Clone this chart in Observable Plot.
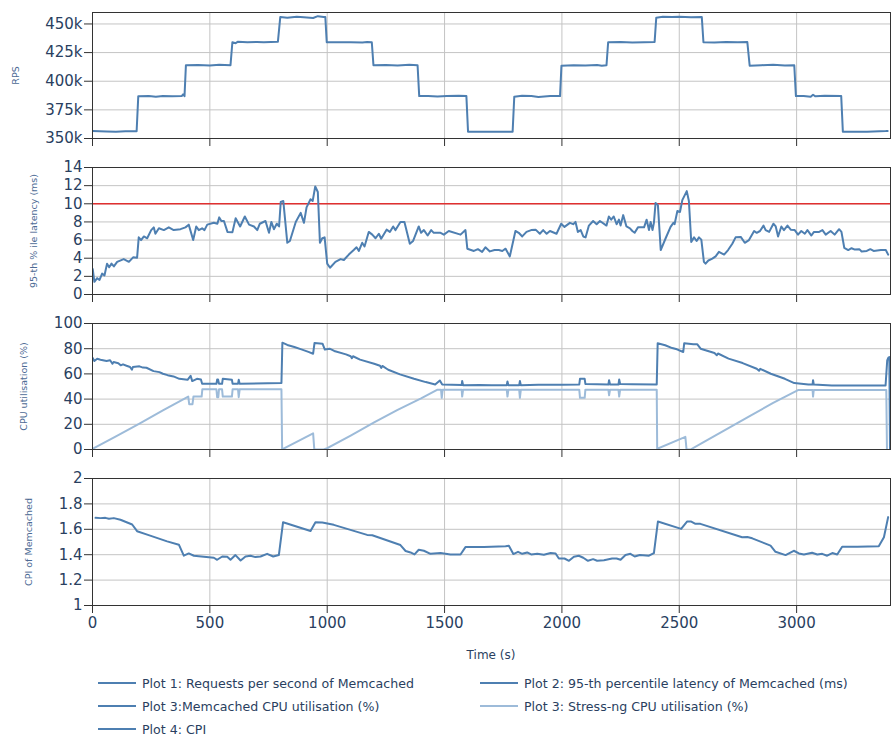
<!DOCTYPE html>
<html><head><meta charset="utf-8">
<script src="https://cdn.jsdelivr.net/npm/d3@7"></script>
<script src="https://cdn.jsdelivr.net/npm/@observablehq/plot@0.6"></script>
<style>
body{margin:0;background:#fff;font-family:"DejaVu Sans",Verdana,sans-serif}
#wrap{position:relative;width:892px;height:740px;overflow:hidden}
.panel{position:absolute;left:0}
#xlabel{position:absolute;top:648px;left:92px;width:798px;text-align:center;font-size:12px;color:#2a3f5f}
.leg{position:absolute;font-size:12.6px;color:#2a3f5f;display:flex;align-items:center;white-space:nowrap;height:16px}
.leg .sw{display:inline-block;width:38px;height:0;border-top:2px solid;margin-right:6px}
</style></head><body><div id="wrap"></div>
<script>
// ---- data (time in seconds, value) ----
const xTicks = [0, 500, 1000, 1500, 2000, 2500, 3000];
const rpsTicks = [350, 375, 400, 425, 450];          // thousands
const latTicks = [0, 2, 4, 6, 8, 10, 12, 14];
const cpuTicks = [0, 20, 40, 60, 80, 100];
const cpiTicks = [1, 1.2, 1.4, 1.6, 1.8, 2];
const latencyLimit = [10];

const rpsSeries = [ // RPS in thousands
[0,356.5],[60,356.2],[100,356.0],[140,356.3],[188,356.3],
[195,386.8],[240,387.0],[270,386.5],[300,387.2],[340,386.8],[380,387.0],[386,388.5],[392,387],
[398,414],[450,414.2],[500,413.8],[540,414.3],[588,414],
[596,434],[610,433.2],[620,434.5],[660,434],[700,434.2],[730,434],[790,434.5],
[800,456],[830,455.5],[870,456.2],[900,455.8],[940,455.2],[960,456.8],[985,456],[992,456],
[998,434],[1050,434.1],[1100,434],[1150,433.8],[1170,434.2],[1190,434],
[1197,414],[1250,414.2],[1300,413.8],[1350,414.4],[1385,414],
[1392,387],[1430,387.2],[1470,386.6],[1510,387],[1560,387.3],[1593,387],
[1600,356],[1700,356],[1790,356],
[1797,386.5],[1830,387.3],[1870,387],[1900,386.3],[1950,387],[1992,387],
[1998,413.5],[2050,414],[2100,413.8],[2150,414.2],[2170,413.5],[2190,414],
[2197,434],[2250,434.2],[2300,433.8],[2350,434],[2395,434.3],
[2402,455.5],[2430,456.3],[2470,456],[2500,456.2],[2550,455.8],[2596,456],
[2603,434],[2650,433.8],[2700,434.2],[2750,434],[2790,434.2],
[2800,413.5],[2850,414],[2900,414.3],[2950,413.8],[2990,414],
[2997,387],[3030,387.2],[3060,386.5],[3070,388.2],[3080,386.8],[3120,387.4],[3190,387],
[3197,356],[3300,356],[3380,356.5],[3388,356.6]
];

const latencySeries = [
[1,2.8],[8,1.4],[20,1.8],[30,1.6],[41,2.3],[51,2.1],[62,3.4],[71,3.0],[81,3.4],[91,3.1],[105,3.6],[133,3.9],[155,3.6],[173,4.1],[190,4.05],[197,6.3],[207,6.0],[219,6.4],[233,6.2],[250,7.1],[261,7.4],[268,6.7],[283,7.3],[304,7.1],[325,7.4],[346,7.1],[375,7.2],[396,7.4],[410,7.7],[429,6.0],[442,7.5],[453,7.1],[467,7.3],[477,7.1],[489,7.7],[517,7.9],[532,7.8],[540,8.5],[549,8.1],[560,8.1],[575,6.9],[596,6.85],[610,8.4],[629,7.5],[649,8.6],[667,7.7],[688,7.5],[702,7.1],[713,7.8],[737,8.1],[752,6.8],[762,8.0],[773,7.2],[785,7.8],[795,7.5],[802,10.2],[813,10.3],[830,5.7],[841,5.9],[866,8.0],[887,9.0],[901,7.9],[912,9.6],[929,10.5],[938,10.3],[949,11.9],[960,11.3],[969,5.7],[979,6.2],[989,6.3],[1000,3.4],[1012,2.95],[1035,3.6],[1057,3.9],[1071,3.8],[1092,4.4],[1113,4.9],[1125,5.2],[1135,4.8],[1149,5.7],[1159,5.3],[1177,6.9],[1192,6.6],[1206,6.2],[1220,6.7],[1230,6.15],[1253,7.15],[1267,6.9],[1281,7.5],[1291,7.1],[1312,8.0],[1329,8.0],[1352,5.6],[1366,5.9],[1390,7.5],[1400,6.8],[1412,7.1],[1428,6.5],[1443,7.1],[1454,6.8],[1483,6.8],[1497,6.6],[1518,7.0],[1568,6.6],[1589,7.1],[1597,5.05],[1625,4.8],[1642,5.0],[1660,4.7],[1674,5.2],[1693,4.75],[1713,4.9],[1731,4.9],[1746,4.8],[1760,5.05],[1778,4.2],[1802,7.0],[1816,6.8],[1831,6.4],[1849,6.9],[1869,7.1],[1888,7.15],[1906,6.7],[1920,7.1],[1935,6.7],[1949,7.0],[1977,6.7],[1997,7.8],[2011,7.45],[2034,7.9],[2048,7.75],[2058,8.0],[2068,6.9],[2080,7.1],[2091,6.4],[2101,6.3],[2115,7.6],[2133,8.1],[2148,7.75],[2162,8.1],[2190,7.6],[2200,8.6],[2210,8.25],[2221,8.6],[2233,7.75],[2243,8.25],[2250,7.6],[2261,8.75],[2275,7.5],[2290,7.3],[2300,7.0],[2310,6.8],[2324,7.4],[2338,7.4],[2350,7.4],[2361,8.25],[2371,7.1],[2378,8.0],[2386,7.1],[2392,7.9],[2399,10.1],[2409,9.85],[2421,4.9],[2442,6.2],[2463,7.45],[2475,7.9],[2480,7.75],[2492,9.2],[2503,9.1],[2513,10.4],[2532,11.4],[2541,10.3],[2551,5.8],[2563,6.3],[2574,5.9],[2584,6.3],[2594,6.05],[2605,3.6],[2612,3.4],[2624,3.75],[2641,3.95],[2655,4.2],[2669,4.7],[2691,4.4],[2708,4.9],[2726,5.6],[2740,6.3],[2762,6.35],[2779,5.7],[2797,6.0],[2819,7.0],[2830,6.8],[2844,7.0],[2859,7.6],[2868,7.1],[2883,6.9],[2901,7.8],[2911,7.5],[2921,6.4],[2935,7.5],[2946,7.1],[2961,7.6],[2975,7.15],[2992,7.1],[3006,6.6],[3020,7.0],[3035,6.7],[3046,7.1],[3063,6.5],[3074,6.9],[3096,6.9],[3110,7.1],[3124,6.6],[3145,7.0],[3162,6.6],[3181,7.2],[3191,6.9],[3203,5.15],[3220,4.9],[3234,5.1],[3248,4.95],[3267,5.0],[3277,4.75],[3299,4.8],[3314,5.0],[3328,4.8],[3359,4.9],[3380,4.9],[3390,4.4]
];

const memcachedCpuSeries = [
[0,72.9],[8,70.2],[20,72],[34,71.3],[60,70.2],[75,70.8],[85,68],[90,69.4],[110,68.5],[120,66.8],[130,67.6],[145,66.5],[160,65.5],[168,63.3],[172,65.5],[200,66],[215,65],[230,64.9],[260,62.2],[285,61.4],[300,60.1],[320,59],[345,58],[370,56.1],[405,55.3],[418,58.5],[425,54.3],[445,56.1],[462,55.5],[467,52.1],[528,52.1],[531,55.5],[535,55.5],[539,52.1],[552,52.1],[555,56.1],[594,55.3],[597,52.1],[620,52.1],[623,55.3],[627,52.1],[805,52.7],[809,84.8],[830,83],[860,81.4],[890,79.5],[920,77.5],[940,76],[946,84.6],[980,84],[990,79.3],[1010,80],[1030,78.2],[1080,75.5],[1100,74],[1105,72.5],[1110,74],[1140,71.3],[1200,68.1],[1225,66.5],[1230,64.8],[1235,66.3],[1260,63.3],[1310,59.6],[1370,56.1],[1420,53.5],[1460,51.6],[1480,54.8],[1490,51.6],[1573,51.2],[1575,54.3],[1579,51],[1650,51.2],[1700,51],[1765,51],[1768,54],[1772,51],[1818,51],[1821,54.3],[1825,51],[1900,51.3],[2000,51.3],[2074,51.6],[2077,56.1],[2097,56.1],[2100,52],[2150,51.8],[2198,51.6],[2201,55],[2205,51.6],[2241,51.6],[2244,55.5],[2248,52],[2300,51.8],[2404,51.6],[2408,84.3],[2440,82.7],[2470,80.5],[2490,79.5],[2517,77.4],[2521,84.3],[2560,83.5],[2577,83.5],[2591,80],[2650,76.6],[2660,74.8],[2665,76.2],[2710,72.1],[2770,68.6],[2830,64.1],[2840,62.5],[2845,64],[2890,60.1],[2950,56.1],[2990,52.7],[3050,51.6],[3068,51.6],[3070,55],[3073,51.6],[3150,50.8],[3250,50.8],[3379,50.8],[3386,70.7],[3391,73],[3395,73.4],[3398,0]
];

const stressNgCpuSeries = [
[0,0.5],[100,10.5],[200,20.5],[300,31],[408,42],[412,36],[426,36],[430,42],[465,42],[468,47.8],[528,47.8],[531,41.5],[536,41.5],[539,47.8],[552,47.8],[555,42],[594,42],[597,47.8],[620,47.8],[623,41.5],[627,47.8],[805,47.8],[808,0],[812,0.5],[940,12.8],[945,0],[985,0],[1000,1],[1100,11],[1200,21.5],[1300,31.5],[1400,40.5],[1470,47.5],[1485,47.5],[1488,41],[1492,47.5],[1573,47.5],[1575,42],[1579,47.5],[1765,47.5],[1768,42],[1772,47.5],[1818,47.5],[1821,41],[1825,47.5],[2074,47.5],[2077,41],[2097,41],[2100,47.5],[2198,47.5],[2201,43],[2205,47.5],[2241,47.5],[2244,42],[2248,47.5],[2404,47.5],[2406,0],[2412,1],[2526,10],[2531,0],[2548,0],[2600,5.5],[2700,16],[2800,26.5],[2900,37],[3008,47.3],[3068,47.3],[3070,42],[3073,47.3],[3382,47.3],[3385,0]
];

const cpiSeries = [
[13,1.690],[34,1.688],[55,1.690],[70,1.683],[91,1.688],[119,1.675],[169,1.638],[190,1.585],[233,1.558],[318,1.505],[368,1.479],[389,1.392],[410,1.410],[432,1.392],[517,1.376],[531,1.360],[553,1.386],[574,1.384],[588,1.360],[609,1.397],[631,1.354],[652,1.386],[673,1.392],[694,1.381],[716,1.386],[744,1.407],[770,1.386],[794,1.397],[812,1.656],[929,1.587],[950,1.656],[979,1.653],[1028,1.635],[1170,1.556],[1192,1.553],[1312,1.476],[1334,1.429],[1355,1.418],[1372,1.402],[1390,1.439],[1412,1.431],[1440,1.407],[1483,1.413],[1525,1.402],[1568,1.402],[1589,1.460],[1668,1.460],[1760,1.466],[1774,1.471],[1793,1.405],[1813,1.423],[1831,1.407],[1852,1.418],[1869,1.402],[1895,1.407],[1923,1.399],[1952,1.413],[1973,1.410],[1987,1.370],[2011,1.370],[2030,1.352],[2051,1.384],[2072,1.392],[2091,1.376],[2111,1.352],[2133,1.365],[2150,1.352],[2179,1.357],[2214,1.370],[2233,1.370],[2250,1.360],[2271,1.397],[2292,1.407],[2310,1.386],[2332,1.397],[2371,1.392],[2392,1.413],[2409,1.661],[2508,1.603],[2533,1.661],[2551,1.661],[2569,1.643],[2590,1.643],[2768,1.537],[2790,1.540],[2811,1.529],[2889,1.471],[2910,1.423],[2953,1.397],[2988,1.431],[3010,1.410],[3031,1.402],[3066,1.415],[3088,1.402],[3109,1.407],[3130,1.392],[3152,1.413],[3173,1.402],[3194,1.463],[3258,1.463],[3350,1.466],[3372,1.537],[3390,1.696]
];

const legendLabels = [
  "Plot 1: Requests per second of Memcached",
  "Plot 2: 95-th percentile latency of Memcached (ms)",
  "Plot 3:Memcached CPU utilisation (%)",
  "Plot 3: Stress-ng CPU utilisation (%)",
  "Plot 4: CPI"
];

// ---- styling ----
const DARK = "#4e7fb1";
const LIGHT = "#9dbbd9";
const GRID = "#c4c4c4";
const TICKTXT = "#2a3f5f";
const TITLE = "#4c6a94";
const xDomain = [0, 3400];

const wrap = document.getElementById("wrap");

function panel({series, yDomain, yTicks, yFmt, title, titleX, top, plotH, mb, showX, extra = []}) {
  const mt = 12;
  const chart = Plot.plot({
    width: 892, height: mt + plotH + mb,
    marginLeft: 92, marginRight: 2, marginTop: mt, marginBottom: mb,
    style: {fontFamily: "'DejaVu Sans', Verdana, sans-serif", fontSize: "15px", color: TICKTXT, background: "white"},
    x: {domain: xDomain},
    y: {domain: yDomain},
    marks: [
      Plot.gridX(xTicks, {stroke: GRID, strokeOpacity: 1}),
      Plot.gridY(yTicks, {stroke: GRID, strokeOpacity: 1}),
      ...extra,
      ...series.map(s => Plot.line(s.data, {x: d => d[0], y: d => d[1], stroke: s.color, strokeWidth: 2, clip: true})),
      Plot.frame({stroke: "#333", strokeWidth: 1}),
      Plot.axisY(yTicks, {tickSize: 8, tickPadding: 2, tickFormat: yFmt, stroke: "#333", fill: TICKTXT, label: null}),
      Plot.axisX(xTicks, {tickSize: 8, tickPadding: 4, tickFormat: showX ? (d => String(d)) : (() => ""), stroke: "#333", fill: TICKTXT, label: null}),
      Plot.text([title], {text: d => d, frameAnchor: "left", textAnchor: "middle", lineAnchor: "middle", dx: titleX - 92, rotate: -90, fontSize: 9.5, fill: TITLE})
    ]
  });
  chart.classList.add("panel");
  chart.style.top = top + "px";
  wrap.appendChild(chart);
}

panel({series: [{data: rpsSeries, color: DARK}], yDomain: [350, 460], yTicks: rpsTicks, yFmt: d => d + "k",
  title: "RPS", titleX: 15, top: 0, plotH: 126, mb: 17, showX: false});
panel({series: [{data: latencySeries, color: DARK}], yDomain: [0, 14], yTicks: latTicks, yFmt: d => String(d),
  title: "95-th % ile latency (ms)", titleX: 33, top: 155, plotH: 127, mb: 17, showX: false,
  extra: [Plot.ruleY(latencyLimit, {stroke: "#e03030", strokeWidth: 1.5})]});
panel({series: [{data: stressNgCpuSeries, color: LIGHT}, {data: memcachedCpuSeries, color: DARK}], yDomain: [0, 100], yTicks: cpuTicks, yFmt: d => String(d),
  title: "CPU utilisation (%)", titleX: 23, top: 311, plotH: 126, mb: 17, showX: false});
panel({series: [{data: cpiSeries, color: DARK}], yDomain: [1, 2], yTicks: cpiTicks, yFmt: d => String(d),
  title: "CPI of Memcached", titleX: 28, top: 466, plotH: 127, mb: 36, showX: true});

const xl = document.createElement("div");
xl.id = "xlabel"; xl.textContent = "Time (s)";
wrap.appendChild(xl);

const legendPos = [
  {x: 98, y: 675, c: DARK}, {x: 480, y: 675, c: DARK},
  {x: 98, y: 698, c: DARK}, {x: 480, y: 698, c: LIGHT},
  {x: 98, y: 721, c: DARK}
];
legendLabels.forEach((label, i) => {
  const p = legendPos[i];
  const d = document.createElement("div");
  d.className = "leg";
  d.style.left = p.x + "px"; d.style.top = p.y + "px";
  const sw = document.createElement("span"); sw.className = "sw"; sw.style.borderColor = p.c;
  const t = document.createElement("span"); t.textContent = label;
  d.appendChild(sw); d.appendChild(t);
  wrap.appendChild(d);
});
</script></body></html>
